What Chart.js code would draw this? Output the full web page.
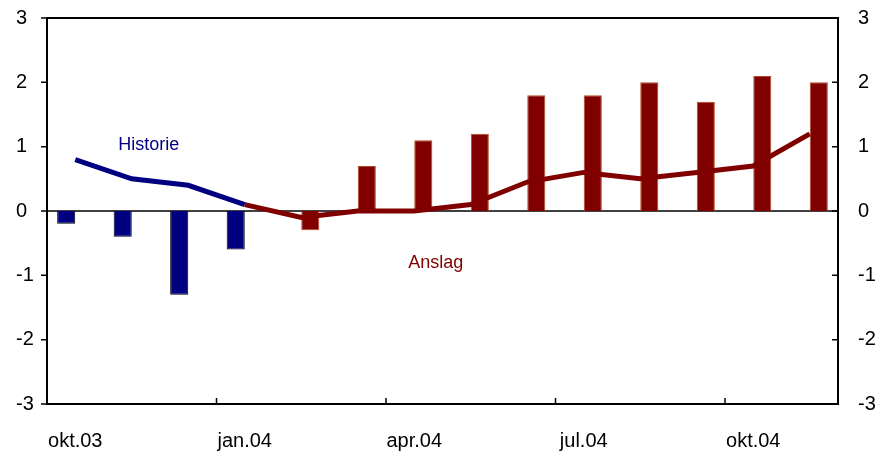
<!DOCTYPE html>
<html>
<head>
<meta charset="utf-8">
<script src="https://cdn.jsdelivr.net/npm/chart.js@4"></script>
<style>
  body { margin: 0; background: #fff; }
  #wrap { width: 881px; height: 456px; position: relative; }
</style>
</head>
<body>
<div id="wrap"><canvas id="chart"></canvas></div>
<script>
// Months, Oct 2003 - Nov 2004
const months = ["okt.03", "nov.03", "des.03", "jan.04", "feb.04", "mar.04", "apr.04",
  "mai.04", "jun.04", "jul.04", "aug.04", "sep.04", "okt.04", "nov.04"];

// Bars (history / forecast)
const historyBars = [-0.2, -0.4, -1.3, -0.6, null, null, null, null, null, null, null, null, null, null];
const forecastBars = [null, null, null, null, -0.3, 0.7, 1.1, 1.2, 1.8, 1.8, 2.0, 1.7, 2.1, 2.0];

// Lines (history / forecast)
const historyLine = [0.8, 0.5, 0.4, 0.1, null, null, null, null, null, null, null, null, null, null];
const forecastLine = [null, null, null, 0.1, -0.1, 0.0, 0.0, 0.1, 0.45, 0.6, 0.5, 0.6, 0.7, 1.2];

const yTicks = [-3, -2, -1, 0, 1, 2, 3];

const NAVY = "#000080";
const MAROON = "#800000";
const FONT = "'Liberation Sans', Arial, sans-serif";

// frame, tick marks, zero line and text labels
const decorations = {
  id: "decorations",
  beforeDatasetsDraw(chart) {
    const { ctx, chartArea: a, scales: { y } } = chart;
    const y0 = y.getPixelForValue(0);
    ctx.save();
    ctx.strokeStyle = "#000";
    ctx.lineWidth = 1.5;
    ctx.beginPath();
    ctx.moveTo(a.left, y0);
    ctx.lineTo(a.right, y0);
    ctx.stroke();
    ctx.restore();
  },
  afterDraw(chart) {
    const { ctx, chartArea: a, scales: { x, y } } = chart;
    ctx.save();
    ctx.strokeStyle = "#000";
    ctx.lineWidth = 2;
    ctx.strokeRect(a.left, a.top, a.right - a.left, a.bottom - a.top);

    ctx.lineWidth = 1.5;
    ctx.beginPath();
    yTicks.forEach(v => {
      const py = y.getPixelForValue(v);
      ctx.moveTo(a.left - 6, py);
      ctx.lineTo(a.left, py);
      ctx.moveTo(a.right - 6, py);
      ctx.lineTo(a.right, py);
    });
    for (let i = 3; i < months.length; i += 3) {
      const px = (x.getPixelForValue(i - 1) + x.getPixelForValue(i)) / 2;
      ctx.moveTo(px, a.bottom);
      ctx.lineTo(px, a.bottom - 6);
    }
    ctx.stroke();

    const step = (a.right - a.left) / months.length;
    ctx.font = "18px " + FONT;
    ctx.textAlign = "center";
    ctx.textBaseline = "middle";
    ctx.fillStyle = NAVY;
    ctx.fillText("Historie", a.left + 1.8 * step, y.getPixelForValue(1.03));
    ctx.fillStyle = MAROON;
    ctx.fillText("Anslag", a.left + 6.88 * step, y.getPixelForValue(-0.81));
    ctx.restore();
  }
};

function fixY(width) {
  return s => {
    s.width = width;
    s.paddingTop = 0;
    s.paddingBottom = 0;
  };
}

const ctx = document.getElementById("chart").getContext("2d");
new Chart(ctx, {
  data: {
    labels: months,
    datasets: [
      {
        type: "line",
        label: "Historie",
        data: historyLine,
        borderColor: NAVY,
        borderWidth: 5,
        pointRadius: 0,
        tension: 0,
        order: 0,
      },
      {
        type: "line",
        label: "Anslag",
        data: forecastLine,
        borderColor: MAROON,
        borderWidth: 5,
        pointRadius: 0,
        tension: 0,
        order: 0,
      },
      {
        type: "bar",
        label: "Historie",
        data: historyBars,
        backgroundColor: NAVY,
        borderColor: "#000",
        borderWidth: 1,
        categoryPercentage: 0.64,
        barPercentage: 1,
        order: 1,
      },
      {
        type: "bar",
        label: "Anslag",
        data: forecastBars,
        backgroundColor: MAROON,
        borderColor: "#b0491f",
        borderWidth: 1,
        categoryPercentage: 0.64,
        barPercentage: 1,
        order: 1,
      },
    ],
  },
  options: {
    responsive: true,
    maintainAspectRatio: false,
    animation: false,
    layout: { padding: { top: 18, left: 16, right: 0, bottom: 0 } },
    plugins: {
      legend: { display: false },
      tooltip: { enabled: false },
    },
    scales: {
      x: {
        offset: true,
        grid: { display: false, drawTicks: false },
        border: { display: false },
        ticks: {
          autoSkip: false,
          maxRotation: 0,
          padding: 25,
          color: "#000",
          font: { family: FONT, size: 20 },
          callback: (v, i) => (i % 3 === 0 ? months[i] : ""),
        },
        afterFit: s => {
          s.height = 52;
          s.paddingLeft = 0;
          s.paddingRight = 0;
        },
      },
      y: {
        position: "left",
        min: -3,
        max: 3,
        grid: { display: false, drawTicks: false },
        border: { display: false },
        ticks: {
          stepSize: 1,
          crossAlign: "far",
          color: "#000",
          font: { family: FONT, size: 20 },
        },
        afterFit: fixY(31),
      },
      y2: {
        position: "right",
        min: -3,
        max: 3,
        grid: { display: false, drawTicks: false },
        border: { display: false },
        ticks: {
          stepSize: 1,
          padding: 20,
          crossAlign: "near",
          color: "#000",
          font: { family: FONT, size: 20 },
        },
        afterFit: fixY(43),
      },
    },
  },
  plugins: [decorations],
});
</script>
</body>
</html>
